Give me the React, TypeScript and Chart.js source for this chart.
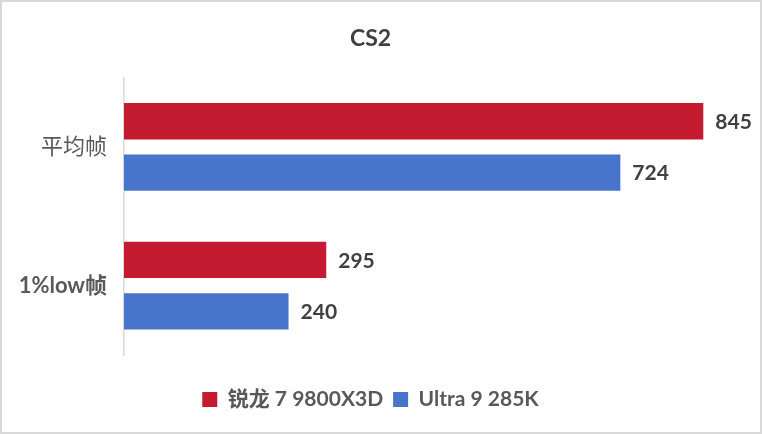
import { useEffect, useRef } from "react"
import { Chart, registerables } from "chart.js"

Chart.register(...registerables)

const categories = ["平均帧", "1%low帧"]
const ryzenValues = [845, 295]
const intelValues = [724, 240]
const seriesNames = ["锐龙 7 9800X3D", "Ultra 9 285K"]

const FONT = "Lato, 'Noto Sans CJK SC', sans-serif"

// draw the value next to the end of every bar
const barLabels = {
  id: "barLabels",
  afterDatasetsDraw(chart: Chart) {
    const { ctx } = chart
    ctx.save()
    ctx.font = `bold 21px ${FONT}`
    ctx.fillStyle = "#404040"
    ctx.textAlign = "left"
    ctx.textBaseline = "middle"
    chart.data.datasets.forEach((ds, i) => {
      const meta = chart.getDatasetMeta(i)
      meta.data.forEach((bar: any, j) => {
        ctx.fillText(String(ds.data[j]), bar.x + 12, bar.y + 1)
      })
    })
    ctx.restore()
  },
}

export default function App() {
  const chartRef = useRef<HTMLCanvasElement>(null)
  const chartInstance = useRef<Chart | null>(null)

  useEffect(() => {
    document.body.style.margin = "0"
    if (!chartRef.current) return
    if (chartInstance.current) chartInstance.current.destroy()
    const ctx = chartRef.current.getContext("2d")
    if (!ctx) return

    chartInstance.current = new Chart(ctx, {
      type: "bar",
      data: {
        labels: categories,
        datasets: [
          {
            label: seriesNames[0],
            data: ryzenValues,
            backgroundColor: "#C51B30",
            categoryPercentage: 0.742,
            barPercentage: 0.706,
          },
          {
            label: seriesNames[1],
            data: intelValues,
            backgroundColor: "#4874CB",
            categoryPercentage: 0.742,
            barPercentage: 0.706,
          },
        ],
      },
      options: {
        indexAxis: "y",
        animation: false,
        responsive: true,
        maintainAspectRatio: false,
        layout: { padding: { left: 0, right: 21, top: 0, bottom: 14 } },
        plugins: {
          title: {
            display: true,
            text: "CS2",
            color: "#404040",
            font: { family: FONT, size: 23, weight: "bold" },
            padding: { top: 25, bottom: 25 },
          },
          legend: {
            position: "bottom",
            labels: {
              color: "#595959",
              font: { family: FONT, size: 21, weight: "bold" },
              boxWidth: 15,
              boxHeight: 15,
              padding: 10,
            },
          },
          tooltip: { enabled: false },
        },
        scales: {
          x: {
            display: true,
            min: 0,
            max: 900,
            afterFit: (scale: any) => {
              scale.height = 24
            },
            grid: { display: false, drawTicks: false },
            border: { display: false },
            ticks: { display: false },
          },
          y: {
            afterFit: (scale: any) => {
              scale.width = 124
            },
            grid: { display: false, drawTicks: false },
            border: { display: true, color: "#D9D9D9", width: 1.5 },
            ticks: {
              color: "#595959",
              padding: 17,
              font: (c: any) => ({
                family: FONT,
                size: 22,
                weight: c.index === 1 ? "bold" : "normal",
              }),
            },
          },
        },
      },
      plugins: [barLabels],
    })

    return () => {
      if (chartInstance.current) {
        chartInstance.current.destroy()
        chartInstance.current = null
      }
    }
  }, [])

  return (
    <div
      style={{
        width: 762,
        height: 434,
        boxSizing: "border-box",
        border: "2px solid #D9D9D9",
        position: "relative",
        background: "#fff",
      }}
    >
      <div style={{ position: "absolute", left: -2, top: -2, width: 762, height: 434 }}>
        <canvas ref={chartRef} />
      </div>
    </div>
  )
}
